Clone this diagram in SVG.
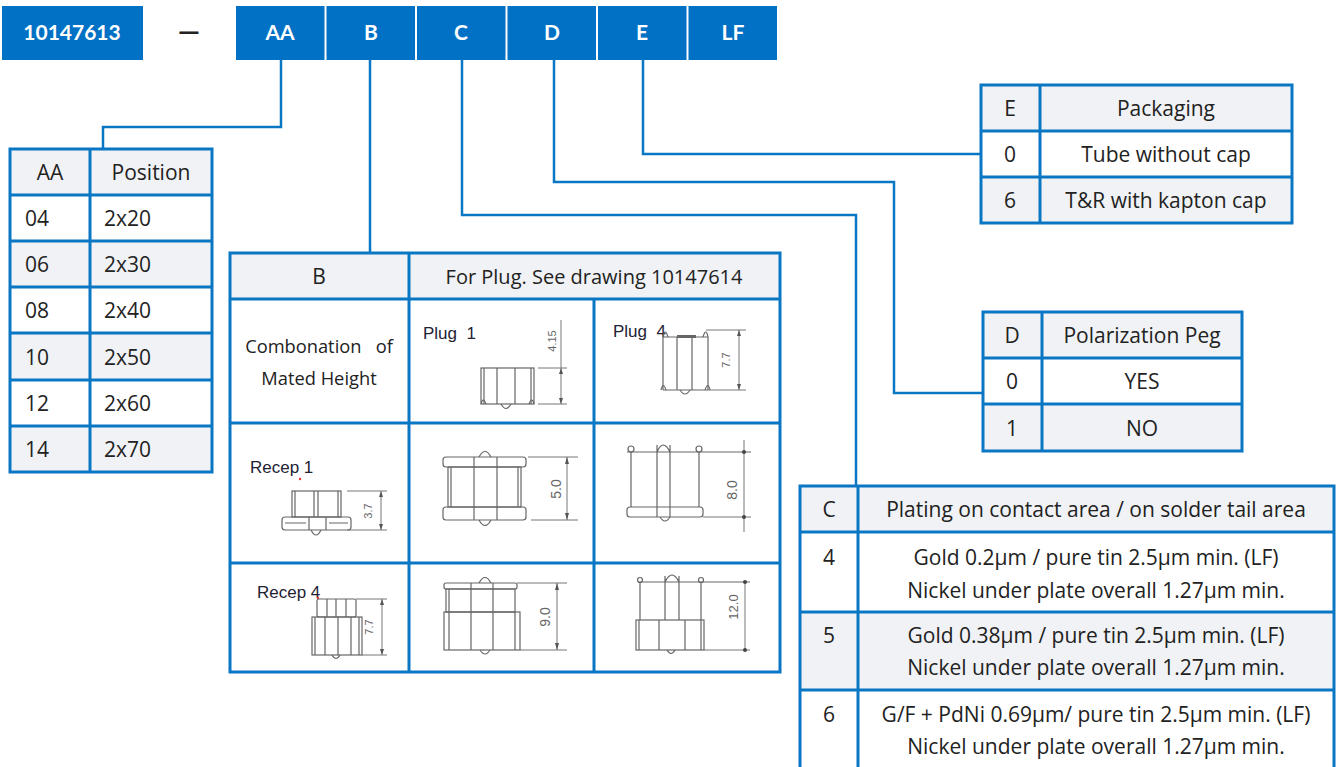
<svg xmlns="http://www.w3.org/2000/svg" width="1336" height="767" viewBox="0 0 1336 767">
<style>
.bx{fill:#0071c5}
.bt{font-family:Lato,"Open Sans",sans-serif;font-weight:bold;font-size:21px;fill:#fff;text-anchor:middle}
.t{font-family:"Open Sans",Lato,sans-serif;font-size:21px;fill:#222}
.m{text-anchor:middle}
.g{fill:#f0f2f5}
.w{fill:#fff}
.grid{fill:none;stroke:#0a77c4;stroke-width:3}
.con{fill:none;stroke:#0a77c4;stroke-width:2.5}
.dr{fill:none;stroke:#666;stroke-width:1.2}
.dim{fill:none;stroke:#777;stroke-width:1}
.dt{font-family:"Liberation Sans",Arial,sans-serif;font-size:11px;fill:#666;text-anchor:middle}
.lb{font-family:"Liberation Sans",Arial,sans-serif;font-size:17px;fill:#222233}
</style>
<rect width="1336" height="767" fill="#fff"/>

<g id="connectors">
<path class="con" d="M281 60 V127 H103 V149"/>
<path class="con" d="M370 60 V253"/>
<path class="con" d="M462 60 V215 H856 V486"/>
<path class="con" d="M554 60 V182 H894 V393 H983"/>
<path class="con" d="M643 60 V154 H981"/>
</g>

<g id="box-base"><rect class="bx" x="2" y="6" width="141" height="54"/><text class="bt" x="72" y="40">10147613</text></g>
<g id="dash"><text x="189" y="41" font-family="Lato,sans-serif" font-weight="bold" font-size="28" fill="#222" text-anchor="middle">—</text></g>
<g id="box-AA"><rect class="bx" x="236" y="6" width="88.5" height="54"/><text class="bt" x="280" y="40">AA</text></g>
<g id="box-B"><rect class="bx" x="326.5" y="6" width="88.5" height="54"/><text class="bt" x="371" y="40">B</text></g>
<g id="box-C"><rect class="bx" x="417" y="6" width="88.5" height="54"/><text class="bt" x="461" y="40">C</text></g>
<g id="box-D"><rect class="bx" x="507.5" y="6" width="88.5" height="54"/><text class="bt" x="552" y="40">D</text></g>
<g id="box-E"><rect class="bx" x="598" y="6" width="88.5" height="54"/><text class="bt" x="642" y="40">E</text></g>
<g id="box-LF"><rect class="bx" x="688.5" y="6" width="88.5" height="54"/><text class="bt" x="733" y="40">LF</text></g>

<g id="table-AA">
<rect class="g" x="10" y="149" width="202" height="46"/>
<rect class="w" x="10" y="195" width="202" height="46"/>
<rect class="g" x="10" y="241" width="202" height="46"/>
<rect class="w" x="10" y="287" width="202" height="46"/>
<rect class="g" x="10" y="333" width="202" height="47"/>
<rect class="w" x="10" y="380" width="202" height="46"/>
<rect class="g" x="10" y="426" width="202" height="46"/>
<path class="grid" d="M10 149 H212 V472 H10 Z M10 195 H212 M10 241 H212 M10 287 H212 M10 333 H212 M10 380 H212 M10 426 H212 M90 149 V472"/>
<text class="t m" x="50" y="180">AA</text><text class="t m" x="151" y="180">Position</text>
<text class="t" x="25" y="226">04</text><text class="t" x="104" y="226">2x20</text>
<text class="t" x="25" y="272">06</text><text class="t" x="104" y="272">2x30</text>
<text class="t" x="25" y="318">08</text><text class="t" x="104" y="318">2x40</text>
<text class="t" x="25" y="365">10</text><text class="t" x="104" y="365">2x50</text>
<text class="t" x="25" y="411">12</text><text class="t" x="104" y="411">2x60</text>
<text class="t" x="25" y="457">14</text><text class="t" x="104" y="457">2x70</text>
</g>

<g id="table-B">
<rect class="g" x="230" y="253" width="550" height="46"/>
<rect class="w" x="230" y="299" width="550" height="373"/>
<path class="grid" d="M230 253 H780 V672 H230 Z M230 299 H780 M230 423 H780 M230 563 H780 M409 253 V672 M594 299 V672"/>
<text class="t m" x="319" y="284">B</text>
<text class="t m" x="594" y="284" style="font-size:20px">For Plug. See drawing 10147614</text>
<text class="t m" x="319" y="353" style="font-size:18.3px" xml:space="preserve">Combonation   of</text>
<text class="t m" x="319" y="385" style="font-size:18.3px">Mated Height</text>

<g id="plug1">
<text class="lb" x="423" y="339" xml:space="preserve">Plug  1</text>
<rect class="dr" x="481" y="368" width="53" height="36"/>
<path class="dr" d="M484 368 V404 M497 368 V404 M515 368 V404 M531 368 V404"/>
<path class="dr" d="M481 404 Q483 396 486 404 M529 404 Q532 396 534 404 M501 404 Q506 413 511 404"/>
<path class="dim" d="M538 368 H567 M538 404 H567 M561 320 V404"/>
<path d="M561 368 l-2 6 h4 Z M561 404 l-2 -6 h4 Z" fill="#555"/>
<text class="dt" transform="translate(556 341) rotate(-90)">4.15</text>
</g>

<g id="plug4">
<text class="lb" x="613" y="337" xml:space="preserve">Plug  4</text>
<path class="dr" d="M663 337 H708 M663 337 V390 M708 337 V390 M677 337 V390 M692 337 V390 M663 390 H708"/>
<rect x="677" y="335" width="19" height="3" fill="#666"/>
<path class="dr" d="M663 337 Q665 327 668 337 M703 337 Q706 327 708 337 M661 390 Q663 381 666 390 M705 390 Q708 381 710 390 M680 390 Q685 398 690 390"/>
<path class="dim" d="M706 330 H746 M708 390 H746 M739 330 V390"/>
<path d="M739 330 l-2 6 h4 Z M739 390 l-2 -6 h4 Z" fill="#555"/>
<text class="dt" transform="translate(730 360) rotate(-90)">7.7</text>
</g>

<g id="recep1">
<text class="lb" x="250" y="473">Recep 1</text>
<circle cx="300" cy="479" r="1.2" fill="#e33"/>
<rect class="dr" x="292" y="491" width="49" height="26"/>
<path class="dr" d="M295 491 V517 M314 491 V517 M318 491 V517 M338 491 V517"/>
<rect class="dr" x="282" y="517" width="69" height="13" rx="3"/>
<path class="dr" d="M309 517 V530 M326 517 V530 M285 523 H306 M329 523 H348"/>
<path class="dr" d="M311 530 Q316 540 321 530"/>
<path class="dim" d="M347 491 H387 M347 530 H387 M381 491 V530"/>
<path d="M381 491 l-2 6 h4 Z M381 530 l-2 -6 h4 Z" fill="#555"/>
<text class="dt" transform="translate(372 511) rotate(-90)">3.7</text>
</g>

<g id="r1p1">
<rect class="dr" x="443" y="457" width="83" height="10" rx="3"/>
<rect class="dr" x="448" y="467" width="73" height="40"/>
<rect class="dr" x="443" y="507" width="83" height="13" rx="3"/>
<path class="dr" d="M451 467 V507 M474 457 V520 M497 457 V520 M518 467 V507"/>
<path class="dr" d="M479 457 Q485 446 491 457 M479 520 Q485 531 491 520"/>
<path class="dim" d="M528 457 H578 M531 520 H578 M567 457 V520"/>
<path d="M567 457 l-2 7 h4 Z M567 520 l-2 -7 h4 Z" fill="#555"/>
<text class="dt" style="font-size:14px" transform="translate(561 489) rotate(-90)">5.0</text>
</g>

<g id="r1p4">
<path class="dr" d="M627 452 H751 M631 452 V507 M699 452 V507 M657 445 V507 M670 445 V507 M657 452 Q663 438 670 452"/>
<circle class="dr" cx="631" cy="449" r="3"/>
<circle class="dr" cx="699" cy="449" r="3"/>
<rect class="dr" x="627" y="507" width="76" height="10" rx="3"/>
<path class="dr" d="M657 507 V517 M670 507 V517 M660 517 Q665 525 670 517"/>
<path class="dim" d="M703 517 H751 M744 440 V532"/>
<circle cx="744" cy="452" r="2" fill="#444"/>
<circle cx="744" cy="517" r="2" fill="#444"/>
<text class="dt" style="font-size:14px" transform="translate(737 490) rotate(-90)">8.0</text>
</g>

<g id="recep4">
<text class="lb" x="257" y="598">Recep 4</text>
<circle cx="318" cy="598" r="1.2" fill="#e33"/>
<rect class="dr" x="317" y="599" width="39" height="18" rx="2"/>
<path class="dr" d="M327 599 V617 M336 599 V617 M346 599 V617"/>
<rect class="dr" x="312" y="617" width="50" height="38"/>
<path class="dr" d="M315 617 V655 M325 617 V655 M338 617 V655 M351 617 V655 M359 617 V655"/>
<path class="dr" d="M332 655 Q336 662 340 655"/>
<path class="dim" d="M356 599 H387 M362 655 H387 M382 599 V655"/>
<path d="M382 599 l-2 6 h4 Z M382 655 l-2 -6 h4 Z" fill="#555"/>
<text class="dt" transform="translate(373 627) rotate(-90)">7.7</text>
</g>

<g id="r4p1">
<rect class="dr" x="444" y="583" width="73" height="6" rx="2"/>
<rect class="dr" x="446" y="589" width="69" height="23"/>
<rect class="dr" x="444" y="612" width="76" height="38"/>
<path class="dr" d="M449 589 V650 M471 583 V650 M493 583 V650 M515 612 V650"/>
<path class="dr" d="M479 583 Q485 572 491 583 M480 650 Q485 658 490 650"/>
<path class="dim" d="M517 583 H567 M520 650 H567 M557 583 V650"/>
<path d="M557 583 l-2 7 h4 Z M557 650 l-2 -7 h4 Z" fill="#555"/>
<text class="dt" style="font-size:14px" transform="translate(550 617) rotate(-90)">9.0</text>
</g>

<g id="r4p4">
<path class="dr" d="M638 582 H750 M640 582 V620 M701 582 V620 M665 576 V620 M679 576 V620 M665 582 Q672 568 679 582"/>
<circle class="dr" cx="640" cy="580" r="2.5"/>
<circle class="dr" cx="701" cy="580" r="2.5"/>
<rect class="dr" x="636" y="620" width="68" height="30"/>
<path class="dr" d="M639 620 V650 M659 620 V650 M685 620 V650 M701 620 V650 M667 650 Q671 657 675 650"/>
<path class="dim" d="M704 650 H750 M745 582 V650"/>
<circle cx="745" cy="582" r="2" fill="#444"/>
<circle cx="745" cy="650" r="2" fill="#444"/>
<text class="dt" style="font-size:13px" transform="translate(738 607) rotate(-90)">12.0</text>
</g>
</g>

<g id="table-E">
<rect class="g" x="981" y="85" width="311" height="46"/>
<rect class="w" x="981" y="131" width="311" height="46"/>
<rect class="g" x="981" y="177" width="311" height="46"/>
<path class="grid" d="M981 85 H1292 V223 H981 Z M981 131 H1292 M981 177 H1292 M1040 85 V223"/>
<text class="t m" x="1010" y="116">E</text><text class="t m" x="1166" y="116">Packaging</text>
<text class="t m" x="1010" y="162">0</text><text class="t m" x="1166" y="162">Tube without cap</text>
<text class="t m" x="1010" y="208">6</text><text class="t m" x="1166" y="208">T&amp;R with kapton cap</text>
</g>

<g id="table-D">
<rect class="g" x="983" y="312" width="259" height="46"/>
<rect class="w" x="983" y="358" width="259" height="46"/>
<rect class="g" x="983" y="404" width="259" height="47"/>
<path class="grid" d="M983 312 H1242 V451 H983 Z M983 358 H1242 M983 404 H1242 M1042 312 V451"/>
<text class="t m" x="1012" y="343">D</text><text class="t m" x="1142" y="343">Polarization Peg</text>
<text class="t m" x="1012" y="389">0</text><text class="t m" x="1142" y="389">YES</text>
<text class="t m" x="1012" y="436">1</text><text class="t m" x="1142" y="436">NO</text>
</g>

<g id="table-C">
<rect class="g" x="800" y="486" width="534" height="46"/>
<rect class="w" x="800" y="532" width="534" height="80"/>
<rect class="g" x="800" y="612" width="534" height="78"/>
<rect class="w" x="800" y="690" width="534" height="80"/>
<path class="grid" d="M800 770 V486 H1334 V770 M800 532 H1334 M800 612 H1334 M800 690 H1334 M858 486 V770"/>
<text class="t m" x="829" y="517">C</text><text class="t m" x="1096" y="517">Plating on contact area / on solder tail area</text>
<text class="t m" x="829" y="565">4</text>
<text class="t m" x="1096" y="565">Gold 0.2µm / pure tin 2.5µm min. (LF)</text>
<text class="t m" x="1096" y="598">Nickel under plate overall 1.27µm min.</text>
<text class="t m" x="829" y="643">5</text>
<text class="t m" x="1096" y="643">Gold 0.38µm / pure tin 2.5µm min. (LF)</text>
<text class="t m" x="1096" y="675">Nickel under plate overall 1.27µm min.</text>
<text class="t m" x="829" y="722">6</text>
<text class="t m" x="1096" y="722">G/F + PdNi 0.69µm/ pure tin 2.5µm min. (LF)</text>
<text class="t m" x="1096" y="754">Nickel under plate overall 1.27µm min.</text>
</g>
</svg>
